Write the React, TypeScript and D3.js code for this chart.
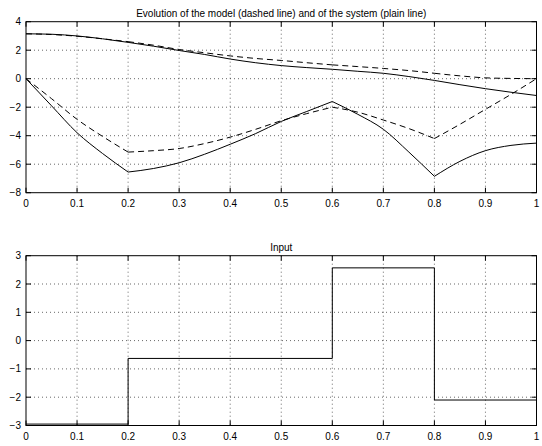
import React from "react";
import * as d3 from "d3";

// ---- data ----
const tGrid = [0, 0.05, 0.1, 0.15, 0.2, 0.25, 0.3, 0.35, 0.4, 0.45, 0.5, 0.55, 0.6, 0.65, 0.7, 0.75, 0.8, 0.85, 0.9, 0.95, 1.0];
const sys1 = [3.15, 3.12, 3.0, 2.8, 2.55, 2.28, 1.98, 1.7, 1.38, 1.12, 0.92, 0.78, 0.66, 0.52, 0.38, 0.15, -0.12, -0.42, -0.7, -0.95, -1.18];
const mod1 = [3.15, 3.1, 2.98, 2.8, 2.6, 2.35, 2.05, 1.82, 1.6, 1.42, 1.28, 1.12, 0.97, 0.85, 0.72, 0.57, 0.38, 0.2, 0.06, 0.02, 0.0];
const sys2 = [0, -1.9, -3.79, -5.25, -6.55, -6.3, -5.9, -5.3, -4.6, -3.85, -3.0, -2.3, -1.6, -2.5, -3.55, -5.15, -6.85, -5.8, -5.05, -4.68, -4.52];
const mod2 = [0, -1.4, -2.85, -4.05, -5.15, -5.05, -4.9, -4.55, -4.1, -3.55, -2.95, -2.45, -2.0, -2.35, -2.9, -3.5, -4.2, -3.2, -2.15, -1.1, 0.0];
// sampling instants where the input switches (kinks in the responses)
const breakIdx = [0, 4, 12, 16, 20];

const uTimes = [0, 0.2, 0.6, 0.8, 1.0];
const uValues = [-2.95, -0.63, 2.57, -2.1, -2.1];

const xTicks = [0, 0.1, 0.2, 0.3, 0.4, 0.5, 0.6, 0.7, 0.8, 0.9, 1];
const yTicksTop = [-8, -6, -4, -2, 0, 2, 4];
const yTicksBottom = [-3, -2, -1, 0, 1, 2, 3];

const title1 = "Evolution of the model (dashed line) and of the system (plain line)";
const title2 = "Input";

const W = 542, H = 446;
const FONT = "'Liberation Sans', Arial, Helvetica, sans-serif";

function fmt(v: number) {
  const s = String(v);
  return s.startsWith("-") ? "\u2212" + s.slice(1) : s;
}

type AxProps = {
  top: number; bottom: number; left: number; right: number;
  yDomain: [number, number]; yTicks: number[]; title: string;
  children: (x: d3.ScaleLinear<number, number>, y: d3.ScaleLinear<number, number>) => React.ReactNode;
};

function Axes({ top, bottom, left, right, yDomain, yTicks, title, children }: AxProps) {
  const x = d3.scaleLinear().domain([0, 1]).range([left, right]);
  const y = d3.scaleLinear().domain(yDomain).range([bottom, top]);
  const tl = 5;
  return (
    <g>
      <rect x={left} y={top} width={right - left} height={bottom - top} fill="#fff" />
      {xTicks.slice(1, -1).map((t) => (
        <line key={"gx" + t} x1={x(t)} x2={x(t)} y1={top} y2={bottom} stroke="#000" strokeWidth={0.6} strokeDasharray="1,3" />
      ))}
      {yTicks.slice(1, -1).map((t) => (
        <line key={"gy" + t} x1={left} x2={right} y1={y(t)} y2={y(t)} stroke="#000" strokeWidth={0.6} strokeDasharray="1,3" />
      ))}
      <g>{children(x, y)}</g>
      {xTicks.map((t) => (
        <g key={"tx" + t}>
          <line x1={x(t)} x2={x(t)} y1={bottom} y2={bottom - tl} stroke="#000" />
          <line x1={x(t)} x2={x(t)} y1={top} y2={top + tl} stroke="#000" />
          <text x={x(t)} y={bottom + 14.5} textAnchor="middle" fontSize={10} fontFamily={FONT}>{fmt(t)}</text>
        </g>
      ))}
      {yTicks.map((t) => (
        <g key={"ty" + t}>
          <line x1={left} x2={left + tl} y1={y(t)} y2={y(t)} stroke="#000" />
          <line x1={right} x2={right - tl} y1={y(t)} y2={y(t)} stroke="#000" />
          <text x={left - 5} y={y(t) + 3.5} textAnchor="end" fontSize={10} fontFamily={FONT}>{fmt(t)}</text>
        </g>
      ))}
      <rect x={left} y={top} width={right - left} height={bottom - top} fill="none" stroke="#000" strokeWidth={1} />
      <text x={(left + right) / 2} y={top - 5} textAnchor="middle" fontSize={10} fontFamily={FONT}>{title}</text>
    </g>
  );
}

function pieces(values: number[]) {
  const out: { t: number; v: number }[][] = [];
  for (let k = 0; k < breakIdx.length - 1; k++) {
    const seg: { t: number; v: number }[] = [];
    for (let i = breakIdx[k]; i <= breakIdx[k + 1]; i++) seg.push({ t: tGrid[i], v: values[i] });
    out.push(seg);
  }
  return out;
}

export default function App() {
  const L = 26, R = 536.5;
  return (
    <svg width={W} height={H} style={{ position: "absolute", left: 0, top: 0, background: "#fff" }}>
      <rect width={W} height={H} fill="#fff" />
      <Axes top={21.7} bottom={192.7} left={L} right={R} yDomain={[-8, 4]} yTicks={yTicksTop} title={title1}>
        {(x, y) => {
          const line = d3.line<{ t: number; v: number }>().x((d) => x(d.t)).y((d) => y(d.v)).curve(d3.curveMonotoneX);
          const path = (vals: number[]) => pieces(vals).map((s) => line(s) || "").join("");
          return (
            <g fill="none" stroke="#000" strokeWidth={1}>
              <path d={path(sys1)} />
              <path d={path(sys2)} />
              <path d={path(mod1)} strokeDasharray="6,4" />
              <path d={path(mod2)} strokeDasharray="6,4" />
            </g>
          );
        }}
      </Axes>
      <Axes top={255.7} bottom={425.5} left={L} right={R} yDomain={[-3, 3]} yTicks={yTicksBottom} title={title2}>
        {(x, y) => {
          const line = d3.line<number>().x((_, i) => x(uTimes[i])).y((d) => y(d)).curve(d3.curveStepAfter);
          return <path d={line(uValues) || ""} fill="none" stroke="#000" strokeWidth={1} />;
        }}
      </Axes>
    </svg>
  );
}
